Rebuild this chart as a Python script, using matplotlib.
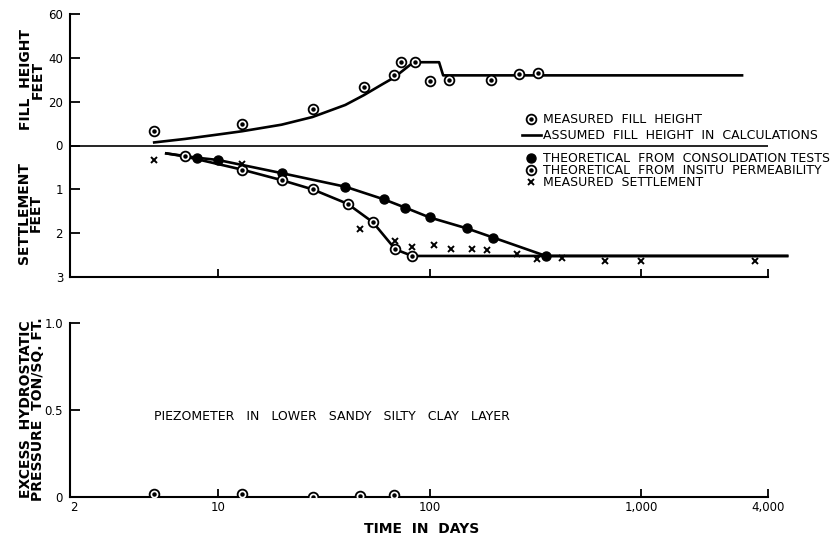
import matplotlib
matplotlib.use('Agg')
import matplotlib.pyplot as plt
from matplotlib.lines import Line2D
from matplotlib.legend_handler import HandlerTuple

plt.rcParams['font.family'] = ['DejaVu Sans']

# Fill height (feet)
fill_meas_days = [5, 13, 28, 49, 68, 73, 85, 100, 123, 195, 265, 325]
fill_meas_ft = [6.5, 10, 16.5, 26.5, 32, 38, 38, 29.5, 30, 30, 32.5, 33]
fill_line_days = [5, 7, 10, 13, 20, 28, 40, 49, 60, 68, 84, 111, 116, 3000]
fill_line_ft = [1.4, 3, 5, 6.5, 9.5, 13, 18.5, 23, 28, 31, 38, 38, 32, 32]

# Settlement (feet)
cons_line_days = [5.7, 8, 10, 20, 40, 61, 77, 100, 150, 200, 355, 4900]
cons_line_ft = [0.18, 0.28, 0.33, 0.63, 0.94, 1.23, 1.42, 1.64, 1.89, 2.1, 2.52, 2.52]
cons_pt_days = [8, 10, 20, 40, 61, 77, 100, 150, 200, 355]
cons_pt_ft = [0.28, 0.33, 0.63, 0.94, 1.23, 1.42, 1.64, 1.89, 2.1, 2.52]

insitu_line_days = [5.7, 7, 13, 20, 28, 41, 54, 69, 83, 4900]
insitu_line_ft = [0.18, 0.25, 0.55, 0.79, 1.0, 1.33, 1.75, 2.37, 2.52, 2.52]
insitu_pt_days = [7, 13, 20, 28, 41, 54, 69, 83]
insitu_pt_ft = [0.25, 0.55, 0.79, 1.0, 1.33, 1.75, 2.37, 2.52]

meas_set_days = [5, 13, 47, 69, 83, 105, 127, 158, 187, 260, 323, 425, 675, 1000, 3450]
meas_set_ft = [0.32, 0.42, 1.9, 2.19, 2.32, 2.27, 2.35, 2.37, 2.38, 2.48, 2.6, 2.57, 2.63, 2.63, 2.63]

# Piezometer
piezo_days = [5, 13, 28, 47, 68]
piezo_tsf = [0.02, 0.02, 0.0, 0.005, 0.01]

x_ticks = [10, 100, 1000, 4000]
x_labels = ['10', '100', '1,000', '4,000']

fig = plt.figure(figsize=(8.32, 5.39), dpi=100)
ax = fig.add_axes([70 / 832, 1 - 277 / 539, 719 / 832, 263 / 539])
ax2 = fig.add_axes([70 / 832, 1 - 497 / 539, 719 / 832, 174 / 539])

def circ_dot(a, x, y, ms=7):
    a.plot(x, y, 'o', ms=ms, mfc='white', mec='black', mew=1.3, ls='none', zorder=4)
    a.plot(x, y, 'o', ms=2.2, color='black', ls='none', zorder=5)

# top panel: fill height plotted as ft/20 above zero, settlement as negative below
ax.plot(fill_line_days, [v / 20 for v in fill_line_ft], color='black', lw=1.9, zorder=3)
circ_dot(ax, fill_meas_days, [v / 20 for v in fill_meas_ft])

ax.plot(cons_line_days, [-v for v in cons_line_ft], color='black', lw=1.9, zorder=3)
ax.plot(cons_pt_days, [-v for v in cons_pt_ft], 'o', ms=6.5, color='black', zorder=4)
ax.plot(insitu_line_days, [-v for v in insitu_line_ft], color='black', lw=1.9, zorder=3)
circ_dot(ax, insitu_pt_days, [-v for v in insitu_pt_ft])
ax.plot(meas_set_days, [-v for v in meas_set_ft], 'x', ms=5, mew=1.4, color='black', zorder=5)

ax.hlines(0, 2, 4000, color='black', lw=1.2)

ax.set_xscale('log')
ax.set_xlim(2, 5000)
ax.set_ylim(-3, 3)
for s in ['top', 'right']:
    ax.spines[s].set_visible(False)
ax.spines['left'].set_bounds(-3, 3)
ax.spines['bottom'].set_bounds(2, 4000)
ax.spines['left'].set_linewidth(1.5)
ax.spines['bottom'].set_linewidth(1.5)
ax.set_yticks([3, 2, 1, 0, -1, -2, -3])
ax.set_yticklabels(['60', '40', '20', '0', '1', '2', '3'])
ax.set_xticks(x_ticks)
ax.set_xticklabels([])
ax.xaxis.set_minor_locator(matplotlib.ticker.NullLocator())
ax.tick_params(axis='x', direction='in', length=6, width=1.3)
ax.tick_params(axis='y', direction='in', length=7, width=1.3, labelsize=8.5, pad=5)

# legends
h_circ = (Line2D([], [], marker='o', ms=7, mfc='white', mec='black', mew=1.3, ls='none'),
          Line2D([], [], marker='o', ms=2.2, color='black', ls='none'))
h_line = Line2D([], [], color='black', lw=1.9)
leg1 = ax.legend([h_circ, h_line], ['MEASURED  FILL  HEIGHT', 'ASSUMED  FILL  HEIGHT  IN  CALCULATIONS'],
                 handler_map={tuple: HandlerTuple(ndivide=1)}, frameon=False, fontsize=9,
                 loc='upper left', bbox_to_anchor=(522 / 832, 1 - 113 / 539),
                 bbox_transform=fig.transFigure, borderaxespad=0, borderpad=0,
                 handlelength=1.5, handletextpad=0.2, labelspacing=0.26)
ax.add_artist(leg1)
h_dot = Line2D([], [], marker='o', ms=6.5, color='black', ls='none')
h_x = Line2D([], [], marker='x', ms=5, mew=1.4, color='black', ls='none')
ax.legend([h_dot, h_circ, h_x],
          ['THEORETICAL  FROM  CONSOLIDATION TESTS', 'THEORETICAL  FROM  INSITU  PERMEABILITY',
           'MEASURED  SETTLEMENT'],
          handler_map={tuple: HandlerTuple(ndivide=1)}, frameon=False, fontsize=9,
          loc='upper left', bbox_to_anchor=(522 / 832, 1 - 152 / 539),
          bbox_transform=fig.transFigure, borderaxespad=0, borderpad=0,
          handlelength=1.5, handletextpad=0.2, labelspacing=-0.08)

# bottom panel: piezometer
circ_dot(ax2, piezo_days, piezo_tsf)
ax2.set_xscale('log')
ax2.set_xlim(2, 5000)
ax2.set_ylim(0, 1.0)
for s in ['top', 'right']:
    ax2.spines[s].set_visible(False)
ax2.spines['bottom'].set_bounds(2, 4000)
ax2.spines['left'].set_linewidth(1.5)
ax2.spines['bottom'].set_linewidth(1.5)
ax2.set_yticks([0, 0.5, 1.0])
ax2.set_yticklabels(['0', '0.5', '1.0'])
ax2.set_xticks([2] + x_ticks)
ax2.set_xticklabels(['2'] + x_labels)
ax2.xaxis.set_minor_locator(matplotlib.ticker.NullLocator())
ax2.tick_params(axis='x', direction='in', length=6, width=1.3, labelsize=8.5, pad=3)
ax2.tick_params(axis='y', direction='in', length=7, width=1.3, labelsize=8.5, pad=5)
ax2.xaxis.get_major_ticks()[0].tick1line.set_visible(False)
ax2.yaxis.get_major_ticks()[0].tick1line.set_visible(False)
ax2.get_xticklabels()[0].set_horizontalalignment('left')
ax2.text(5, 0.465, 'PIEZOMETER   IN   LOWER   SANDY   SILTY   CLAY   LAYER', fontsize=9,
         ha='left', va='center')

# axis titles
fig.text(32 / 832, 1 - 80 / 539, 'FILL  HEIGHT\nFEET', rotation=90, ha='center', va='center',
         fontsize=10, fontweight='bold', linespacing=0.85)
fig.text(30 / 832, 1 - 213 / 539, 'SETTLEMENT\nFEET', rotation=90, ha='center', va='center',
         fontsize=10, fontweight='bold', linespacing=0.85)
fig.text(32 / 832, 1 - 409 / 539, 'EXCESS  HYDROSTATIC\nPRESSURE  TON/SQ. FT.', rotation=90,
         ha='center', va='center', fontsize=10, fontweight='bold', linespacing=0.9)
fig.text(422 / 832, 1 - 529 / 539, 'TIME  IN  DAYS', ha='center', va='center',
         fontsize=10, fontweight='bold')

fig.savefig('out.png', dpi=100)
